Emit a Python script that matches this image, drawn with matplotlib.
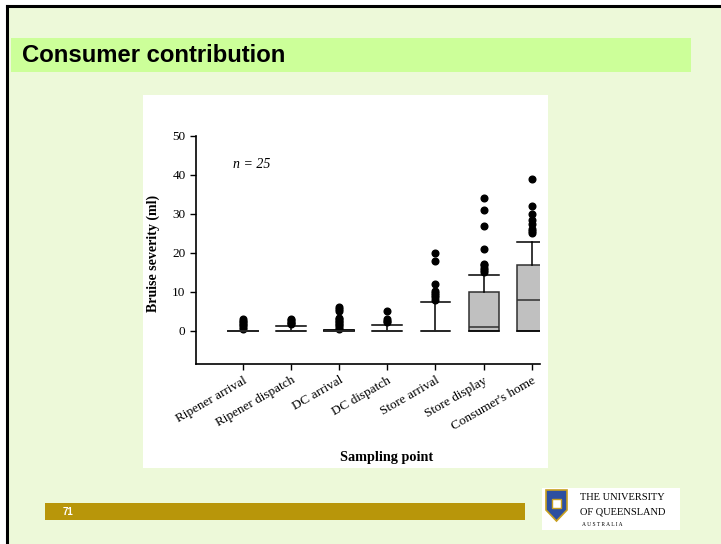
import matplotlib.pyplot as plt
import matplotlib.patches as mpatches

W, H = 721, 544

categories = ["Ripener arrival", "Ripener dispatch", "DC arrival", "DC dispatch",
              "Store arrival", "Store display", "Consumer's home"]
q1 = [0, 0, 0, 0, 0, 0, 0]
med = [0, 0, 0, 0, 0, 1, 8]
q3 = [0, 0, 0.3, 0, 0, 10, 17]
whislo = [0, 0, 0, 0, 0, 0, 0]
whishi = [0, 1.2, 0.3, 1.5, 7.3, 14.3, 22.7]
fliers = [
    [0.6, 1.0, 1.4, 1.8, 2.2, 2.6, 3.0],
    [1.8, 2.1, 2.4, 2.7, 3.0],
    [0.6, 1.0, 1.4, 1.8, 2.2, 2.6, 3.0, 3.4, 5.0, 5.5, 6.0],
    [2.2, 2.6, 3.0, 5.0],
    [8.0, 8.6, 9.2, 9.8, 10.2, 12.0, 18.0, 20.0],
    [15.0, 15.6, 16.2, 16.8, 17.2, 21.0, 27.0, 31.0, 34.0],
    [25.0, 25.6, 26.2, 27.5, 28.5, 30.0, 32.0, 39.0],
]
y_ticks = [0, 10, 20, 30, 40, 50]


def fx(px):
    return px / W


def fy(py):
    return 1 - py / H


def rect(x0, y0, x1, y1, **kw):
    # pixel box (top-left / bottom-right) -> figure rectangle
    p = mpatches.Rectangle((fx(x0), fy(y1)), fx(x1 - x0), fy(y0) - fy(y1),
                           transform=fig.transFigure, **kw)
    fig.patches.append(p)
    return p


fig = plt.figure(figsize=(7.21, 5.44), dpi=100)
fig.patch.set_facecolor("white")

# slide background + frame
rect(7, 6, 721, 544, facecolor="#edf9d9", edgecolor="none", zorder=0)
fig.add_artist(plt.Line2D([fx(7), fx(7)], [fy(6), fy(544)], color="black", lw=2.2, transform=fig.transFigure))
fig.add_artist(plt.Line2D([fx(7), fx(721)], [fy(6), fy(6)], color="black", lw=2.2, transform=fig.transFigure))

# title bar
rect(11, 38, 691, 72, facecolor="#ccff99", edgecolor="none", zorder=1)
fig.text(fx(22), fy(56), "Consumer contribution", fontsize=17.2, fontweight="bold",
         family="Liberation Sans", va="center", ha="left", color="black")

# white chart panel
rect(143, 95, 548, 468, facecolor="white", edgecolor="none", zorder=1)

# page number bar
rect(45, 503, 525, 520, facecolor="#b8960a", edgecolor="none", zorder=1)
fig.text(fx(63), fy(512), "71", fontsize=7, fontweight="bold", color="white",
         family="Liberation Sans", va="center", ha="left")

# logo
rect(542, 488, 680, 530, facecolor="white", edgecolor="none", zorder=1)
fig.patches.append(mpatches.Polygon([(fx(546), fy(490)), (fx(567), fy(490)), (fx(567), fy(510)),
                                     (fx(556.5), fy(521)), (fx(546), fy(510))],
                                    transform=fig.transFigure, facecolor="#2d4fa0", edgecolor="#c8a020", lw=1.2, zorder=2))
rect(552, 499, 561, 508, facecolor="white", edgecolor="#c8a020", lw=1, zorder=3)
fig.text(fx(580), fy(498), "THE UNIVERSITY", fontsize=7.5, family="Liberation Serif", va="center", ha="left")
fig.text(fx(580), fy(512), "OF QUEENSLAND", fontsize=7.5, family="Liberation Serif", va="center", ha="left")
fig.text(fx(582), fy(525), "A U S T R A L I A", fontsize=4, family="Liberation Serif", va="center", ha="left")

# chart
ax = fig.add_axes([fx(196), fy(364), fx(344), fy(136) - fy(364)])
ax.set_zorder(5)
ax.patch.set_alpha(0)
stats = []
for i in range(len(categories)):
    stats.append(dict(med=med[i], q1=q1[i], q3=q3[i], whislo=whislo[i], whishi=whishi[i],
                      fliers=fliers[i], label=categories[i]))
ax.bxp(stats, positions=range(1, 8), widths=0.62, patch_artist=True, showcaps=True,
       boxprops=dict(facecolor="#c0c0c0", edgecolor="#303030", lw=1.1),
       medianprops=dict(color="#303030", lw=1.1),
       whiskerprops=dict(color="black", lw=1.1),
       capprops=dict(color="black", lw=1.1),
       capwidths=0.62,
       flierprops=dict(marker="o", markerfacecolor="black", markeredgecolor="black", markersize=4.8))

ax.set_xlim(0.03, 7.17)
ax.set_ylim(-8.5, 50)
ax.set_yticks(y_ticks)
ax.set_yticklabels([str(t) for t in y_ticks], family="Liberation Serif", fontsize=9.5)
ax.set_xticks(range(1, 8))
ax.set_xticklabels(categories, rotation=30, ha="right", rotation_mode="anchor",
                   family="Liberation Serif", fontsize=9.5)
for s in ["top", "right"]:
    ax.spines[s].set_visible(False)
ax.spines["left"].set_linewidth(1.2)
ax.spines["bottom"].set_linewidth(1.2)
ax.tick_params(length=4, width=1, color="black")
ax.text(0.8, 42.8, "n = 25", fontstyle="italic", family="Liberation Serif", fontsize=10,
        ha="left", va="center")

fig.text(fx(387), fy(458), "Sampling point", fontsize=10.3, fontweight="bold",
         family="Liberation Serif", ha="center", va="center", zorder=6)
fig.text(fx(153), fy(253), "Bruise severity (ml)", fontsize=10, fontweight="bold",
         family="Liberation Serif", ha="center", va="center", rotation=90, zorder=6)

fig.savefig("out.png", dpi=100)
